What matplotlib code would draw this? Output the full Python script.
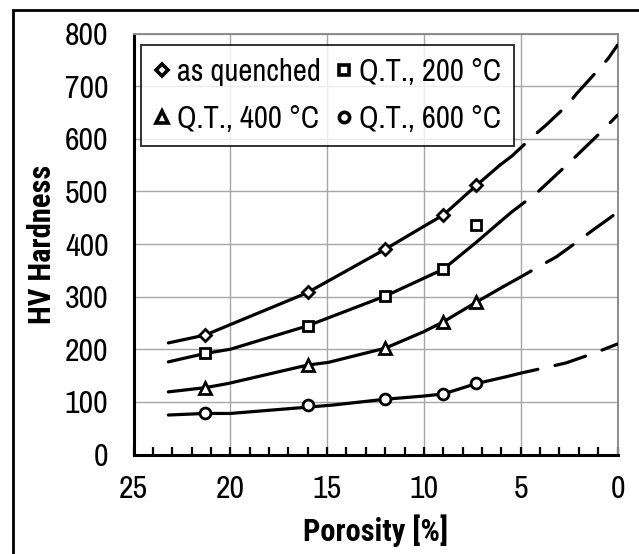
import matplotlib
matplotlib.use("Agg")
import matplotlib.pyplot as plt
from matplotlib.lines import Line2D
from matplotlib.patches import Rectangle
from matplotlib.ticker import MultipleLocator

REG = ['Archivo Narrow', 'Liberation Sans', 'DejaVu Sans']
BOLD = ['Roboto Condensed', 'PT Sans Narrow', 'Open Sans Condensed', 'Archivo Narrow', 'Liberation Sans', 'DejaVu Sans']
plt.rcParams['font.family'] = REG

# measured points
porosity = [21.3, 16.0, 12.0, 9.0, 7.3]
hv_aq = [227, 308, 391, 455, 512]
hv_200 = [192, 244, 301, 352, 436]
hv_400 = [126, 170, 202, 252, 290]
hv_600 = [78, 94, 105, 115, 135]

# trend curves (solid part, then dashed extrapolation)
aq_fit_x = [23.2, 21.3, 16.05, 12.0, 10.03, 9.0, 7.27, 6.07]
aq_fit_y = [212, 227, 307, 390, 433, 455, 512, 550]
aq_ext_x = [6.07, 5.46, 4.35, 3.69, 2.59, 2.08, 1.04, 0.47, 0.0]
aq_ext_y = [550, 567, 605, 626, 664, 687, 729, 753, 778]

t200_fit_x = [23.2, 21.3, 20.0, 16.05, 12.0, 9.0, 7.27, 6.07]
t200_fit_y = [176, 192, 200, 244, 301, 352, 404, 442]
t200_ext_x = [6.07, 5.46, 4.17, 2.45, 0.73, 0.0]
t200_ext_y = [442, 461, 497, 556, 617, 645]

t400_fit_x = [23.2, 21.3, 20.1, 16.0, 14.94, 12.0, 10.03, 9.0, 7.27, 5.9]
t400_fit_y = [119, 127, 135, 170, 175, 202, 233, 252, 290, 319]
t400_ext_x = [5.9, 5.21, 3.92, 3.14, 1.94, 1.25, 0.0]
t400_ext_y = [319, 333, 360, 376, 408, 427, 460]

t600_fit_x = [23.2, 21.3, 20.0, 16.0, 14.7, 12.0, 10.03, 9.0, 7.27, 5.72]
t600_fit_y = [75, 78, 78, 90, 94, 105, 111, 115, 135, 148]
t600_ext_x = [5.72, 4.95, 3.49, 2.66, 1.25, 0.0]
t600_ext_y = [148, 155, 167, 174, 192, 210]

labels = ["as quenched", "Q.T., 200 °C", "Q.T., 400 °C", "Q.T., 600 °C"]
x_ticks = [25, 20, 15, 10, 5, 0]
y_ticks = [0, 100, 200, 300, 400, 500, 600, 700, 800]

fig = plt.figure(figsize=(6.39, 5.54), dpi=100)
ax = fig.add_axes([133.5/639, 1-454.5/554, (617.5-133.5)/639, (454.5-33.5)/554])

lw = 2.3
dash = (0, (10, 5.5))
fits = [(aq_fit_x, aq_fit_y, aq_ext_x, aq_ext_y),
        (t200_fit_x, t200_fit_y, t200_ext_x, t200_ext_y),
        (t400_fit_x, t400_fit_y, t400_ext_x, t400_ext_y),
        (t600_fit_x, t600_fit_y, t600_ext_x, t600_ext_y)]
for fx, fy, ex, ey in fits:
    ax.plot(fx, fy, color='black', lw=lw, solid_capstyle='round', zorder=3)
    ax.plot(ex, ey, color='black', lw=lw, linestyle=dash, dash_capstyle='round', zorder=3)

series = [(hv_aq, 'D', 6.3), (hv_200, 's', 7.5), (hv_400, '^', 9.0), (hv_600, 'o', 7.8)]
for (vals, mk, ms) in series:
    ax.plot(porosity, vals, linestyle='none', marker=mk, ms=ms, mfc='white',
            mec='black', mew=2.0, zorder=4)

ax.set_xlim(25, 0)
ax.set_ylim(0, 800)
ax.set_xticks(x_ticks)
ax.set_xticklabels([str(v) for v in x_ticks])
ax.set_yticks(y_ticks)
ax.set_yticklabels([str(v) for v in y_ticks])
ax.xaxis.set_minor_locator(MultipleLocator(1))
ax.tick_params(axis='x', which='both', direction='in', length=6, width=1.6,
               pad=15, labelsize=23)
ax.tick_params(axis='y', which='both', length=0, pad=18, labelsize=23)
ax.grid(True, which='major', color='#a6a6a6', lw=1.0)
ax.set_axisbelow(True)

for s in ['left', 'bottom']:
    ax.spines[s].set_color('black')
    ax.spines[s].set_linewidth(2.2)
for s in ['top', 'right']:
    ax.spines[s].set_color('#8c8c8c')
    ax.spines[s].set_linewidth(1.4)

ax.set_xlabel('Porosity [%]', fontsize=22, fontweight='bold', family=BOLD, labelpad=8)
ax.set_ylabel('HV Hardness', fontsize=22, fontweight='bold', family=BOLD, labelpad=6)

handles = []
for (vals, mk, ms), lab in zip(series, labels):
    handles.append(Line2D([], [], linestyle='none', marker=mk, ms=ms*0.95,
                          mfc='white', mec='black', mew=2.6, label=lab))
order = [0, 2, 1, 3]
leg = ax.legend([handles[i] for i in order], [labels[i] for i in order], ncol=2,
                loc='upper left', bbox_to_anchor=(0.0165, 0.972),
                fontsize=22, frameon=True, fancybox=False, edgecolor='black',
                handlelength=0.5, handletextpad=0.25, columnspacing=0.5,
                borderpad=0.42, labelspacing=0.62, borderaxespad=0)
leg.get_frame().set_linewidth(1.4)
leg.set_zorder(5)

border = Rectangle((13/639, -0.2), 1.0, 1.2 - 9.5/554, transform=fig.transFigure,
                   fill=False, edgecolor='black', lw=2.0, clip_on=False)
fig.patches.append(border)

fig.savefig('out.png', dpi=100)
